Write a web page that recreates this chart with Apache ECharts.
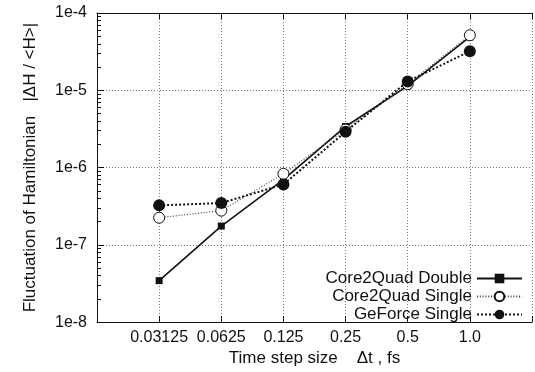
<!DOCTYPE html>
<html>
<head>
<meta charset="utf-8">
<script src="https://cdn.jsdelivr.net/npm/echarts@6/dist/echarts.min.js"></script>
<style>html,body{margin:0;padding:0;background:#fff}#c{width:535px;height:372px}</style>
</head>
<body>
<div id="c"></div>
<script>
var xValues = [0.03125, 0.0625, 0.125, 0.25, 0.5, 1.0];
var xTickLabels = ['0.03125', '0.0625', '0.125', '0.25', '0.5', '1.0'];
var yTickValues = [1e-8, 1e-7, 1e-6, 1e-5, 1e-4];
var yTickLabels = ['1e-8', '1e-7', '1e-6', '1e-5', '1e-4'];
var core2QuadDouble = [3.44e-8, 1.75e-7, 7.0e-7, 3.4e-6, 1.14e-5, 4.9e-5];
var core2QuadSingle = [2.24e-7, 2.77e-7, 8.3e-7, 3.1e-6, 1.2e-5, 5.15e-5];
var geForceSingle = [3.24e-7, 3.47e-7, 6.05e-7, 2.9e-6, 1.3e-5, 3.2e-5];

// minor tick positions (exponent space) for the decade sub-ticks 2..9
var minorTickExps = [];
for (var e = -8; e < -4; e++) {
  for (var m = 2; m <= 9; m++) minorTickExps.push(e + Math.log10(m));
}
function pick(vals, labels, v) {
  for (var i = 0; i < vals.length; i++) {
    if (Math.abs(vals[i] - v) / vals[i] < 1e-6) return labels[i];
  }
  return '';
}
function pairs(ys) { return xValues.map(function (x, i) { return [x, ys[i]]; }); }

var FONT = 'Liberation Sans';
var chart = echarts.init(document.getElementById('c'), null, {renderer: 'canvas'});
chart.setOption({
  animation: false,
  backgroundColor: '#fff',
  textStyle: {fontFamily: FONT, color: '#111'},
  grid: {left: 97, top: 13, right: -1, bottom: 44},
  legend: {
    orient: 'vertical', right: 7, bottom: 44, align: 'right',
    itemWidth: 45, itemHeight: 12, itemGap: 1,
    textStyle: {fontFamily: FONT, fontSize: 17, color: '#111'},
    data: ['Core2Quad Double', 'Core2Quad Single', 'GeForce Single']
  },
  xAxis: [{
    type: 'log', logBase: 2, min: 0.015625, max: 2,
    name: 'Time step size    \u0394t , fs', nameLocation: 'middle', nameGap: 27,
    nameTextStyle: {fontFamily: FONT, fontSize: 17, color: '#111'},
    axisLine: {show: true, lineStyle: {color: '#111', width: 1}},
    axisTick: {show: true, inside: true, length: 6, lineStyle: {color: '#111'}},
    axisLabel: {fontFamily: FONT, fontSize: 16, color: '#111', margin: 7,
      formatter: function (v) { return pick(xValues, xTickLabels, v); }},
    splitLine: {show: true, lineStyle: {color: '#777', type: [1, 2], width: 1}}
  }, {
    type: 'log', logBase: 2, min: 0.015625, max: 2, position: 'top',
    axisLine: {show: true, lineStyle: {color: '#111', width: 1}},
    axisTick: {show: true, inside: true, length: 6, lineStyle: {color: '#111'}},
    axisLabel: {show: false}, splitLine: {show: false}
  }],
  yAxis: [{
    type: 'log', logBase: 10, min: 1e-8, max: 1e-4,
    name: 'Fluctuation of Hamiltonian   |\u0394H / <H>|', nameLocation: 'middle', nameGap: 58,
    nameTextStyle: {fontFamily: FONT, fontSize: 17, color: '#111'},
    axisLine: {show: true, lineStyle: {color: '#111', width: 1}},
    axisTick: {show: true, inside: true, length: 7, lineStyle: {color: '#111'}},
    axisLabel: {fontFamily: FONT, fontSize: 16, color: '#111', margin: 10,
      formatter: function (v) { return pick(yTickValues, yTickLabels, v); }},
    splitLine: {show: true, lineStyle: {color: '#777', type: [1, 2], width: 1}}
  }, {
    type: 'value', min: -8, max: -4, position: 'left',
    axisLine: {show: false},
    axisTick: {show: true, inside: true, length: 4, customValues: minorTickExps, lineStyle: {color: '#111'}},
    axisLabel: {show: false}, splitLine: {show: false}
  }],
  series: [{
    name: 'Core2Quad Double', type: 'line', xAxisIndex: 0, yAxisIndex: 0,
    data: pairs(core2QuadDouble),
    symbol: 'rect', symbolSize: 7,
    lineStyle: {color: '#111', width: 1.6, type: 'solid'},
    itemStyle: {color: '#111'}, z: 2
  }, {
    name: 'Core2Quad Single', type: 'line', xAxisIndex: 0, yAxisIndex: 0,
    data: pairs(core2QuadSingle),
    symbol: 'circle', symbolSize: 11,
    lineStyle: {color: '#444', width: 1.2, type: [1, 1.8]},
    itemStyle: {color: '#fff', borderColor: '#111', borderWidth: 1}, z: 3
  }, {
    name: 'GeForce Single', type: 'line', xAxisIndex: 0, yAxisIndex: 0,
    data: pairs(geForceSingle),
    symbol: 'circle', symbolSize: 12,
    lineStyle: {color: '#111', width: 2, type: [2, 2]},
    itemStyle: {color: '#111'}, z: 4
  }]
});
</script>
</body>
</html>
